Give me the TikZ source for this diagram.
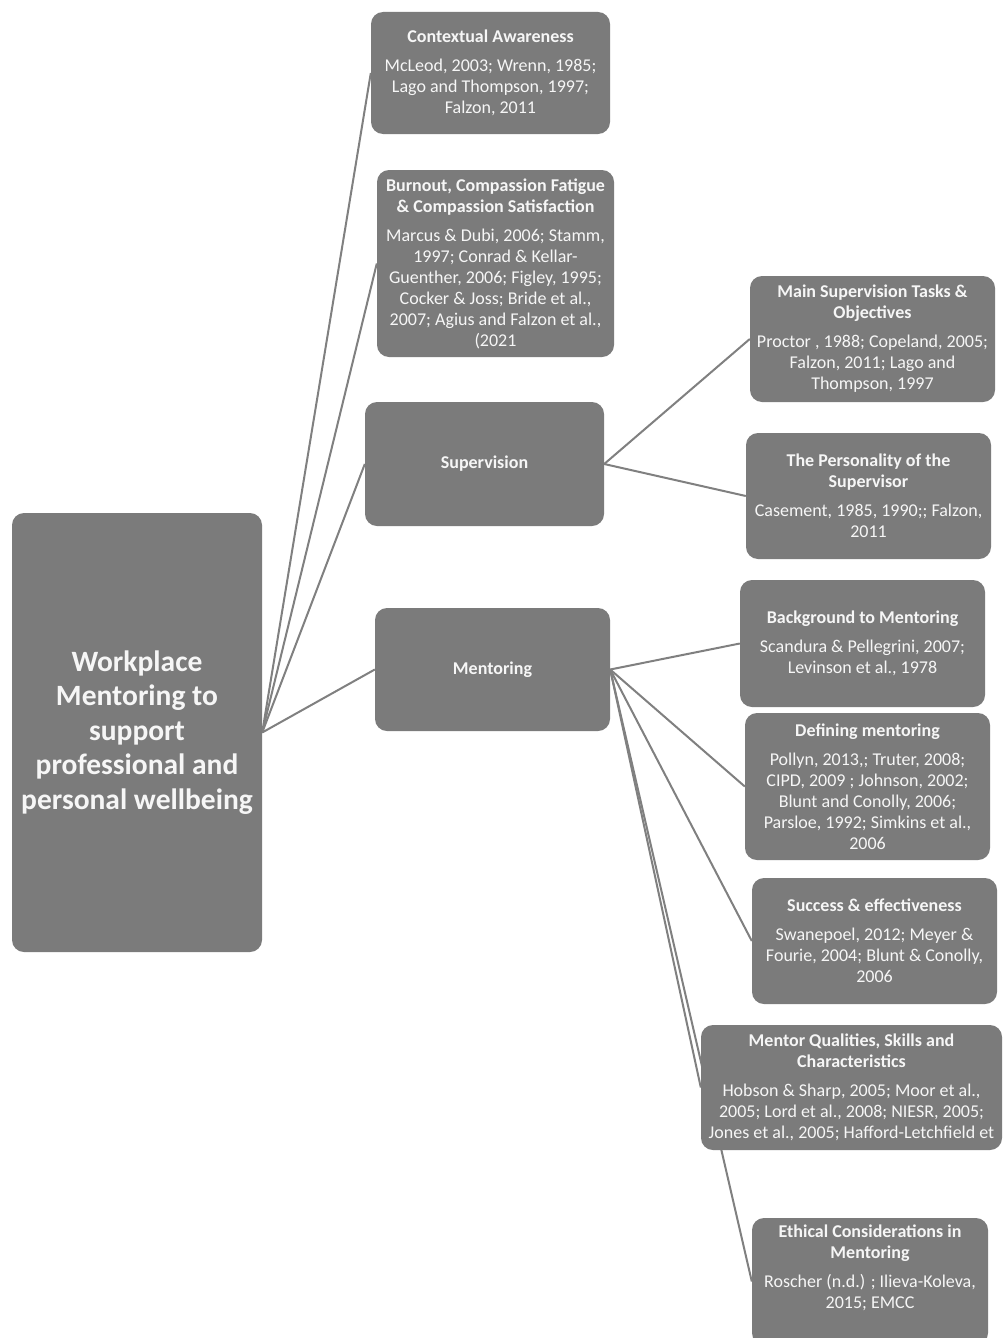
\documentclass[tikz,border=0pt]{standalone}
\usepackage{fontspec}
\setmainfont{Carlito}
\usetikzlibrary{backgrounds}
\definecolor{boxgray}{RGB}{123,123,123}
\definecolor{boxtext}{RGB}{246,246,246}
\definecolor{linegray}{RGB}{128,128,128}
\tikzset{
  box/.style={rounded corners=12pt, fill=boxgray, text=boxtext, align=center,
    inner sep=0pt, font=\fontsize{18}{21}\selectfont},
  rootbox/.style={box, font=\bfseries\fontsize{29.5}{34.5}\selectfont},
  conn/.style={draw=linegray, line width=2pt},
}
\newcommand\ttl[1]{\textbf{#1}}
\begin{document}
\begin{tikzpicture}[x=1pt,y=-1pt]
\useasboundingbox (0,0) rectangle (1002,1338);
\clip (0,0) rectangle (1002,1338);

\node[rootbox, minimum width=250pt, minimum height=439pt] (root) at (137,732.5)
  {Workplace\\Mentoring to\\support\\professional and\\personal wellbeing};

\node[box, minimum width=239pt, minimum height=122pt] (ctx) at (490.5,73)
  {\ttl{Contextual Awareness}\\[8pt]McLeod, 2003; Wrenn, 1985;\\Lago and Thompson, 1997;\\Falzon, 2011};

\node[box, minimum width=237pt, minimum height=187pt] (burn) at (495.5,263.5)
  {\ttl{Burnout, Compassion Fatigue}\\\ttl{\& Compassion Satisfaction}\\[8pt]Marcus \& Dubi, 2006; Stamm,\\1997; Conrad \& Kellar-\\Guenther, 2006; Figley, 1995;\\Cocker \& Joss; Bride et al.,\\2007; Agius and Falzon et al.,\\(2021};

\node[box, minimum width=239pt, minimum height=124pt] (sup) at (484.5,464)
  {\ttl{Supervision}};

\node[box, minimum width=235pt, minimum height=123pt] (men) at (492.5,669.5)
  {\ttl{Mentoring}};

\node[box, minimum width=245pt, minimum height=126pt] (tasks) at (872.5,339)
  {\ttl{Main Supervision Tasks \&}\\\ttl{Objectives}\\[8pt]Proctor , 1988; Copeland, 2005;\\Falzon, 2011; Lago and\\Thompson, 1997};

\node[box, minimum width=245pt, minimum height=126pt] (pers) at (868.5,496)
  {\ttl{The Personality of the}\\\ttl{Supervisor}\\[8pt]Casement, 1985, 1990;; Falzon,\\2011};

\node[box, minimum width=245pt, minimum height=127pt] (back) at (862.5,643.5)
  {\ttl{Background to Mentoring}\\[8pt]Scandura \& Pellegrini, 2007;\\Levinson et al., 1978};

\node[box, minimum width=245pt, minimum height=147pt] (def) at (867.5,786.5)
  {\ttl{Defining mentoring}\\[8pt]Pollyn, 2013,; Truter, 2008;\\CIPD, 2009 ; Johnson, 2002;\\Blunt and Conolly, 2006;\\Parsloe, 1992; Simkins et al.,\\2006};

\node[box, minimum width=245pt, minimum height=126pt] (succ) at (874.5,941)
  {\ttl{Success \& effectiveness}\\[8pt]Swanepoel, 2012; Meyer \&\\Fourie, 2004; Blunt \& Conolly,\\2006};

\node[box, minimum width=301pt, minimum height=125pt] (qual) at (851.5,1087.5)
  {\ttl{Mentor Qualities, Skills and}\\\ttl{Characteristics}\\[8pt]Hobson \& Sharp, 2005; Moor et al.,\\2005; Lord et al., 2008; NIESR, 2005;\\Jones et al., 2005; Hafford-Letchfield et};

\node[box, minimum width=236pt, minimum height=127pt] (eth) at (870,1281.5)
  {\ttl{Ethical Considerations in}\\\ttl{Mentoring}\\[8pt]Roscher (n.d.) ; Ilieva-Koleva,\\2015; EMCC\\[3pt]\strut};

\begin{pgfonlayer}{background}
\fill[white] (0,0) rectangle (1002,1338);
\draw[conn] (root.east) -- (ctx.west);
\draw[conn] (root.east) -- (burn.west);
\draw[conn] (root.east) -- (sup.west);
\draw[conn] (root.east) -- (men.west);
\draw[conn] (sup.east) -- (tasks.west);
\draw[conn] (sup.east) -- (pers.west);
\draw[conn] (men.east) -- (back.west);
\draw[conn] (men.east) -- (def.west);
\draw[conn] (men.east) -- (succ.west);
\draw[conn] (men.east) -- (qual.west);
\draw[conn] (men.east) -- (eth.west);
\end{pgfonlayer}
\end{tikzpicture}
\end{document}
